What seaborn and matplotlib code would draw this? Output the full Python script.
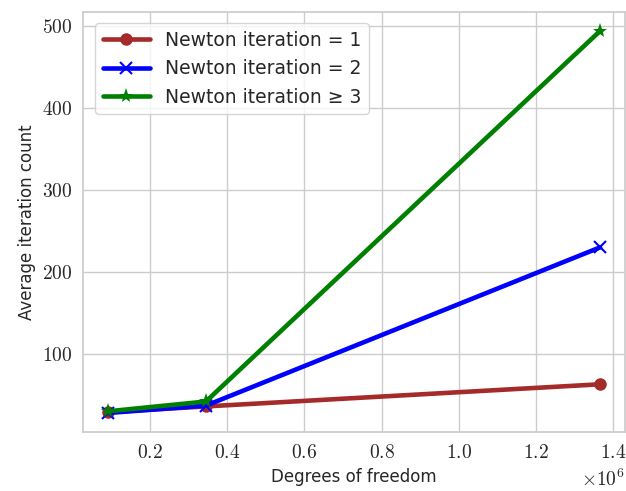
import numpy as np
import pandas as pd
import matplotlib
matplotlib.use("Agg")
import matplotlib.pyplot as plt
import seaborn as sns
from matplotlib.ticker import FuncFormatter

# Datos
dofs = [0.091e6, 0.345e6, 1.366e6]
iter_newton1 = [29, 36, 63]
iter_newton2 = [28, 37, 230]
iter_newton3 = [30, 42, 494]

labels = ["Newton iteration = 1", "Newton iteration = 2", "Newton iteration ≥ 3"]
colors = ["#a52a2a", "blue", "green"]
markers = ["o", "x", "*"]

df = pd.DataFrame({
    "dof": dofs * 3,
    "count": iter_newton1 + iter_newton2 + iter_newton3,
    "series": [labels[0]] * 3 + [labels[1]] * 3 + [labels[2]] * 3,
})

sns.set_theme(style="whitegrid")
plt.rcParams["font.family"] = ["DejaVu Sans"]
plt.rcParams["mathtext.fontset"] = "cm"

fig, ax = plt.subplots(figsize=(6.26, 4.91), dpi=100)
for lab, col, mk in zip(labels, colors, markers):
    sub = df[df["series"] == lab]
    sizes = {"o": 9, "x": 8, "*": 11}
    sns.lineplot(data=sub, x="dof", y="count", ax=ax, color=col, marker=mk,
                 markersize=sizes[mk], markeredgewidth=1.5 if mk == "x" else 0,
                 markeredgecolor=col, linewidth=3.3, label=lab)

ax.xaxis.set_major_formatter(FuncFormatter(lambda v, p: f"${v / 1e6:.1f}$"))
ax.yaxis.set_major_formatter(FuncFormatter(lambda v, p: f"${v:.0f}$"))
ax.set_yticks([100, 200, 300, 400, 500])
ax.tick_params(labelsize=14, pad=2)
ax.text(1.0, -0.088, r"$\times10^{6}$", transform=ax.transAxes, ha="right", va="top", fontsize=14)
ax.set_xlabel("Degrees of freedom", fontsize=12, labelpad=4)
ax.set_ylabel("Average iteration count", fontsize=12)
ax.legend(loc="upper left", fontsize=13.5, frameon=True, handlelength=2.5,
          bbox_to_anchor=(0.005, 0.995))

fig.subplots_adjust(left=0.133, right=0.998, top=0.976, bottom=0.12)
fig.savefig("out.png", dpi=100)
